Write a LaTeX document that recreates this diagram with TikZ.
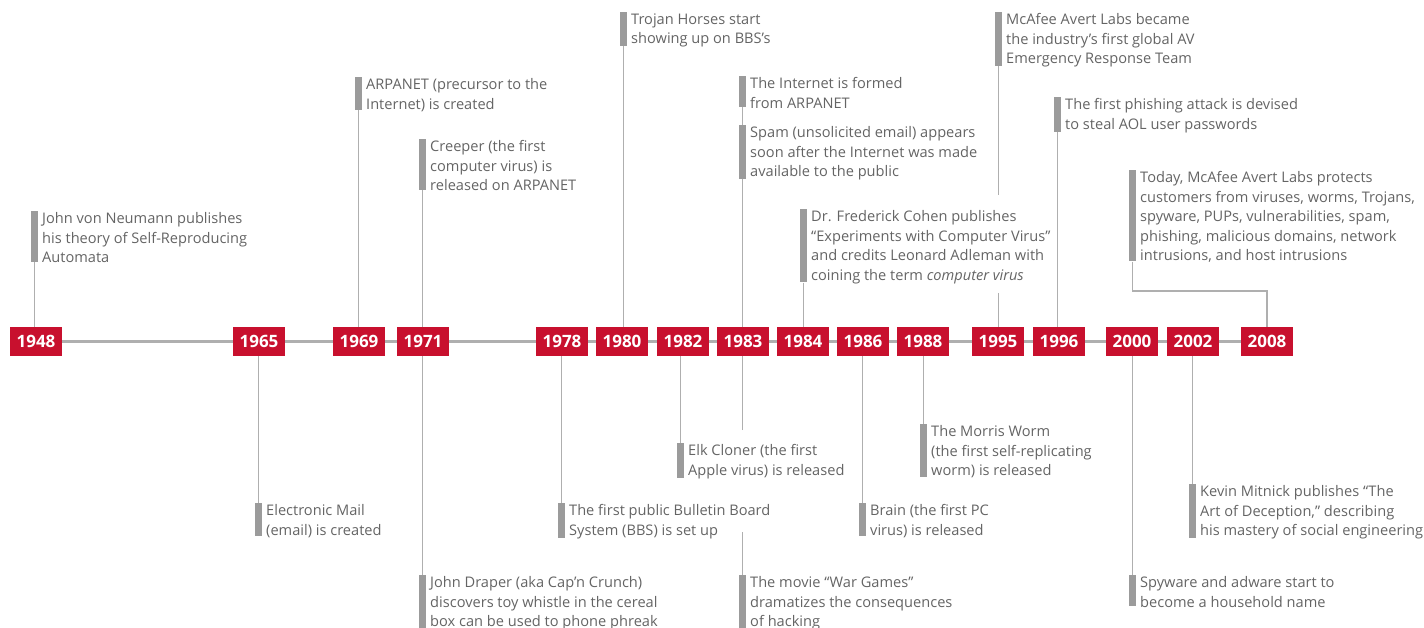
\documentclass[tikz,border=0pt]{standalone}
\usepackage{fontspec}
\setmainfont{Open Sans}
\usetikzlibrary{positioning,fit,backgrounds}
\definecolor{yearred}{RGB}{200,16,46}
\definecolor{bargray}{RGB}{155,155,155}
\definecolor{linegray}{RGB}{175,175,175}
\definecolor{txtgray}{RGB}{100,100,100}
\newcommand{\evbar}[1]{\node[bar, fit=(#1.north west)(#1.south west)] (#1-b) {};}

\begin{document}
\begin{tikzpicture}[x=1pt,y=-1pt,
  year/.style={fill=yearred, text=white, font=\fontsize{17}{17}\selectfont\bfseries, minimum width=52pt, minimum height=29pt, inner sep=0pt},
  evt/.style={anchor=north west, align=left, inner sep=0pt, yshift=-1.5pt, text=txtgray, font=\fontsize{14.6}{19.5}\selectfont},
  bar/.style={fill=bargray, inner sep=0pt, minimum width=7pt, xshift=-7.5pt, yshift=1.5pt},
  conn/.style={draw=linegray, line width=1.8pt},
  axis/.style={draw=linegray, line width=3pt}]
\useasboundingbox (0,0) rectangle (1424,628);

% years
\node[year] (y48) at (36,341.5) {1948};
\node[year] (y65) at (259,341.5) {1965};
\node[year] (y69) at (359,341.5) {1969};
\node[year] (y71) at (423,341.5) {1971};
\node[year] (y78) at (562,341.5) {1978};
\node[year] (y80) at (622,341.5) {1980};
\node[year] (y82) at (683,341.5) {1982};
\node[year] (y83) at (743,341.5) {1983};
\node[year] (y84) at (803,341.5) {1984};
\node[year] (y86) at (863,341.5) {1986};
\node[year] (y88) at (923,341.5) {1988};
\node[year] (y95) at (998,341.5) {1995};
\node[year] (y96) at (1059,341.5) {1996};
\node[year] (y00) at (1132,341.5) {2000};
\node[year] (y02) at (1193,341.5) {2002};
\node[year] (y08) at (1267,341.5) {2008};
\begin{scope}[on background layer]
\draw[axis] (y48) -- (y08);
\end{scope}

% above
\node[evt] (e48) at (42,211) {John von Neumann publishes\\his theory of Self-Reproducing\\Automata};
\node[evt] (e69) at (366,77) {ARPANET (precursor to the\\Internet) is created};
\node[evt] (e71) at (430,139) {Creeper (the first\\computer virus) is\\released on ARPANET};
\node[evt] (e80) at (631,12) {Trojan Horses start\\showing up on BBS’s};
\node[evt] (e83a) at (750,76) {The Internet is formed\\from ARPANET};
\node[evt] (e83b) at (750,125) {Spam (unsolicited email) appears\\soon after the Internet was made\\available to the public};
\node[evt] (e84) at (811,209) {Dr. Frederick Cohen publishes\\“Experiments with Computer Virus”\\and credits Leonard Adleman with\\coining the term \textit{computer virus}};
\node[evt] (e95) at (1006,12) {McAfee Avert Labs became\\the industry’s first global AV\\Emergency Response Team};
\node[evt] (e96) at (1065,97) {The first phishing attack is devised\\to steal AOL user passwords};
\node[evt] (e08) at (1140,170) {Today, McAfee Avert Labs protects\\customers from viruses, worms, Trojans,\\spyware, PUPs, vulnerabilities, spam,\\phishing, malicious domains, network\\intrusions, and host intrusions};

% below
\node[evt] (e65) at (266,503) {Electronic Mail\\(email) is created};
\node[evt] (e71b) at (430,575) {John Draper (aka Cap’n Crunch)\\discovers toy whistle in the cereal\\box can be used to phone phreak};
\node[evt] (e78) at (569,503) {The first public Bulletin Board\\System (BBS) is set up};
\node[evt] (e82) at (688,443) {Elk Cloner (the first\\Apple virus) is released};
\node[evt] (e83c) at (750,575) {The movie “War Games”\\dramatizes the consequences\\of hacking};
\node[evt] (e86) at (870,503) {Brain (the first PC\\virus) is released};
\node[evt] (e88) at (931,424) {The Morris Worm\\(the first self-replicating\\worm) is released};
\node[evt] (e00) at (1140,575) {Spyware and adware start to\\become a household name};
\node[evt] (e02) at (1200,484) {Kevin Mitnick publishes “The\\Art of Deception,” describing\\his mastery of social engineering};

\foreach \e in {e48,e69,e71,e80,e83a,e83b,e84,e95,e96,e08,e65,e71b,e78,e82,e83c,e86,e88,e00,e02}{
  \evbar{\e}
}

% connectors
\draw[conn] (e48-b.south) -- (e48-b.south |- y48.north);
\draw[conn] (e69-b.south) -- (e69-b.south |- y69.north);
\draw[conn] (e71-b.south) -- (e71-b.south |- y71.north);
\draw[conn] (e80-b.south) -- (e80-b.south |- y80.north);
\draw[conn] (e83a-b.south) -- (e83b-b.north);
\draw[conn] (e83b-b.south) -- (e83b-b.south |- y83.north);
\draw[conn] (e84-b.south) -- (e84-b.south |- y84.north);
\draw[conn] (e95-b.south) -- (e95-b.south |- 0,195);
\draw[conn] (e95-b.south |- 0,293) -- (e95-b.south |- y95.north);
\draw[conn] (e96-b.south) -- (e96-b.south |- y96.north);
\draw[conn] (e08-b.south) -- (e08-b.south |- 0,291) -| (y08.north);
\draw[conn] (e65-b.north) -- (e65-b.north |- y65.south);
\draw[conn] (e71b-b.north) -- (e71b-b.north |- y71.south);
\draw[conn] (e78-b.north) -- (e78-b.north |- y78.south);
\draw[conn] (e82-b.north) -- (e82-b.north |- y82.south);
\draw[conn] (e83c-b.north) -- (e83c-b.north |- 0,532);
\draw[conn] (e83c-b.north |- 0,430) -- (e83c-b.north |- y83.south);
\draw[conn] (e86-b.north) -- (e86-b.north |- y86.south);
\draw[conn] (e88-b.north) -- (e88-b.north |- y88.south);
\draw[conn] (e00-b.north) -- (e00-b.north |- y00.south);
\draw[conn] (e02-b.north) -- (e02-b.north |- y02.south);
\end{tikzpicture}
\end{document}
